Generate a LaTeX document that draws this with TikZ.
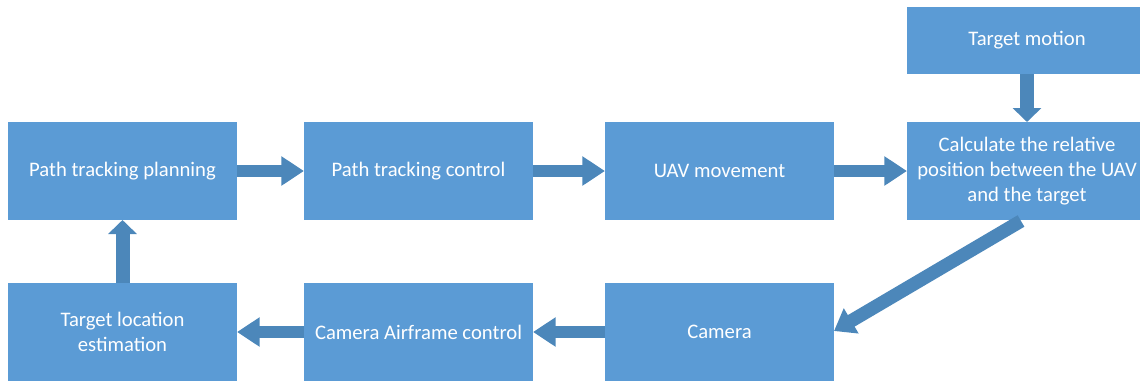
\documentclass[tikz,border=0pt]{standalone}
\usepackage{fontspec}
\setmainfont{Carlito}
\usetikzlibrary{arrows.meta}
\definecolor{boxblue}{HTML}{5B9BD5}
\definecolor{arrowblue}{HTML}{4C87BA}
\begin{document}
\begin{tikzpicture}[x=0.75pt,y=-0.75pt,
  box/.style={fill=boxblue,draw=none,text=white,align=center,inner sep=0pt,outer sep=0pt,
    minimum width=171.75pt,minimum height=73.5pt,
    font=\fontsize{15.5pt}{18.75pt}\selectfont},
  harrow/.style={draw=arrowblue,line width=8.5pt,-{Triangle[width=21pt,length=17pt,fill=arrowblue]}},
  varrow/.style={draw=arrowblue,line width=10.5pt,-{Triangle[width=21pt,length=10.5pt,fill=arrowblue]}},
  darrow/.style={draw=arrowblue,line width=10pt,-{Triangle[width=21pt,length=15pt,fill=arrowblue]}}]
\clip (0,0) rectangle (1140,380);
\node[box] (A) at (122.5,171) {Path tracking planning};
\node[box] (B) at (418.5,171) {Path tracking control};
\node[box] (C) at (719.5,171) {UAV movement};
\node[box,minimum width=180pt] (D) at (1027,171) {Calculate the relative\\position between the UAV\\and the target};
\node[box,minimum width=180pt,minimum height=50.25pt] (E) at (1027,40.5) {Target motion};
\node[box] (F) at (122.5,332) {Target location\\estimation};
\node[box] (G) at (418.5,332) {Camera Airframe control};
\node[box] (H) at (719.5,332) {Camera};
\draw[harrow] (A.east) -- (B.west);
\draw[harrow] (B.east) -- (C.west);
\draw[harrow] (C.east) -- (D.west);
\draw[varrow] (E.south) -- (D.north);
\draw[varrow] (F.north) -- (A.south);
\draw[harrow] (H.west) -- (G.east);
\draw[harrow] (G.west) -- (F.east);
\draw[darrow] ([xshift=-4.5pt,yshift=-0.75pt]D.south) -- ([yshift=0.75pt]H.east);
\end{tikzpicture}
\end{document}
